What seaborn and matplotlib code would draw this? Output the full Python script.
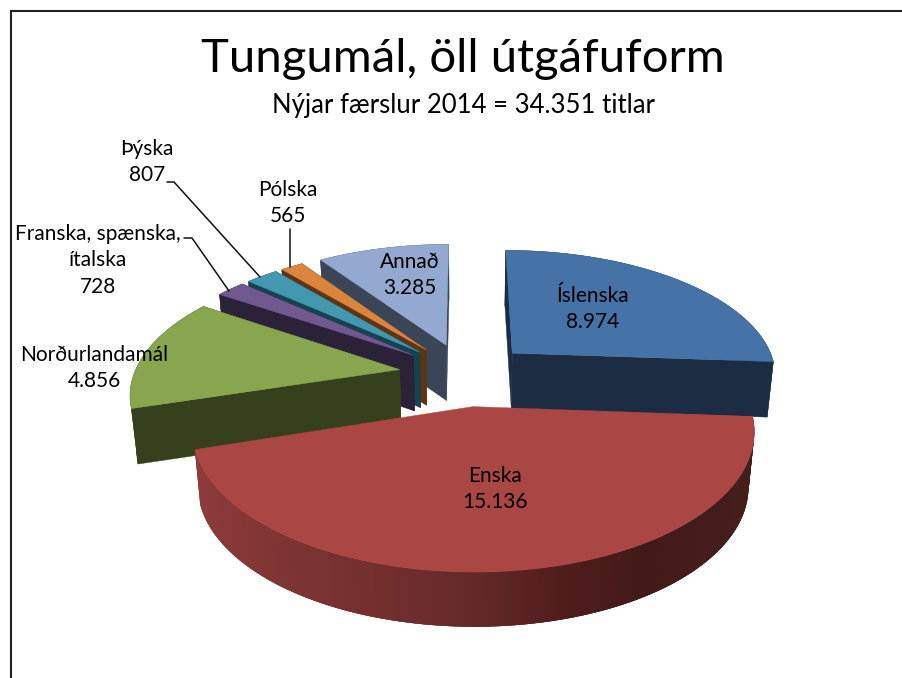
import numpy as np
import matplotlib
matplotlib.use("Agg")
import matplotlib.pyplot as plt
import matplotlib.colors as mcolors
import seaborn as sns

# Data
languages = ['Íslenska', 'Enska', 'Norðurlandamál', 'Franska, spænska,\nítalska', 'Þýska', 'Pólska', 'Annað']
titles = [8974, 15136, 4856, 728, 807, 565, 3285]

# Style
top_colors = ['#4572A7', '#AA4643', '#89A54E', '#71588F', '#4198AF', '#DB843D', '#93A9CF']
side_colors = ['#1B2C43', '#6B2B2A', '#36401D', '#2B2138', '#17424F', '#5E3413', '#3A4558']
label_pos = [(593, 296), (495, 476), (94, 355), (98, 234), (147, 149), (288, 190), (410, 262)]

sns.set_theme(style="white")
plt.rcParams['font.family'] = ['Lato', 'DejaVu Sans']

# perspective of the pie, in pixels
CX, CY = 465, 374
RX, RY = 265.5, 126
PERSP = 0.165
EXPLODE = 0.25
BOTTOM_SHRINK = 0.98


def project(X, Y, bottom=False):
    s = 1 / (1 + PERSP * Y)
    dx = RX * X * s
    dy = -RY * Y * s
    if bottom:
        dx = dx * BOTTOM_SHRINK
        dy = dy * BOTTOM_SHRINK + 55.5 - 2.5 * Y
    return CX + dx, CY + dy


def wedge_points(start, end, n=80):
    mid = (start + end) / 2
    ox, oy = EXPLODE * np.sin(mid), EXPLODE * np.cos(mid)
    th = np.linspace(start, end, n)
    return ox, oy, ox + np.sin(th), oy + np.cos(th)


def enska_side_color(x):
    # the outer wall of the big slice goes dark from left to right
    stops_x = [200, 280, 450, 580, 640, 750]
    stops = [mcolors.to_rgb(c) for c in ['#8C3B39', '#7E3533', '#692B2A', '#4D1C1B', '#421B19', '#451D1A']]
    return [np.interp(x, stops_x, [s[i] for s in stops]) for i in range(3)]


fig = plt.figure(figsize=(9.02, 6.78), dpi=100, facecolor='white')
ax = fig.add_axes([0, 0, 1, 1])
ax.set_xlim(0, 902)
ax.set_ylim(678, 0)
ax.axis('off')

angles = np.cumsum([0] + titles) / sum(titles) * 2 * np.pi

# back to front
draw_order = [6, 5, 4, 3, 2, 0, 1]
for i in draw_order:
    ox, oy, ax_x, ax_y = wedge_points(angles[i], angles[i + 1], n=200 if i == 1 else 80)
    tx, ty = project(ax_x, ax_y)
    bx, by = project(ax_x, ax_y, bottom=True)
    apx, apy = project(ox, oy)
    abx, aby = project(ox, oy, bottom=True)

    if i == 1:
        # going from right to left, each strip overlaps the one before so no seams show
        for j in range(len(tx) - 1):
            j2 = min(j + 3, len(tx) - 1)
            c = enska_side_color((tx[j] + tx[j + 1]) / 2)
            ax.fill([tx[j], tx[j2], bx[j2], bx[j]], [ty[j], ty[j2], by[j2], by[j]],
                    facecolor=c, edgecolor='none')
    else:
        # outer wall
        ax.fill(np.r_[tx, bx[::-1]], np.r_[ty, by[::-1]], color=side_colors[i], lw=0.3)
        # the two cut walls
        for k in (0, -1):
            ax.fill([apx, tx[k], bx[k], abx], [apy, ty[k], by[k], aby], color=side_colors[i], lw=0.3)

    # top face
    ax.fill(np.r_[apx, tx], np.r_[apy, ty], color=top_colors[i], lw=0.3)

# leader lines
ax.plot([167, 174, 260], [182, 182, 277], color='#111111', lw=1.1)
ax.plot([184, 192, 229], [238, 238, 291], color='#111111', lw=1.1)
ax.plot([290, 290], [229, 267], color='#111111', lw=1.1)

# labels
for name, val, (lx, ly) in zip(languages, titles, label_pos):
    txt = name + '\n' + f"{val:,}".replace(',', '.')
    for n, line in enumerate(txt.split('\n')):
        ax.text(lx, ly + n * 26.3, line, ha='center', va='center', fontsize=15, color='black')

ax.text(463, 72, 'Tungumál, öll útgáfuform', ha='center', va='baseline', fontsize=34, color='black')
ax.text(464, 113, 'Nýjar færslur 2014 = 34.351 titlar', ha='center', va='baseline', fontsize=18.5, color='black')

# slide frame
ax.plot([11, 11, 902], [678, 11, 11], color='#222222', lw=1.5, solid_joinstyle='miter')

fig.savefig('out.png', dpi=100)
